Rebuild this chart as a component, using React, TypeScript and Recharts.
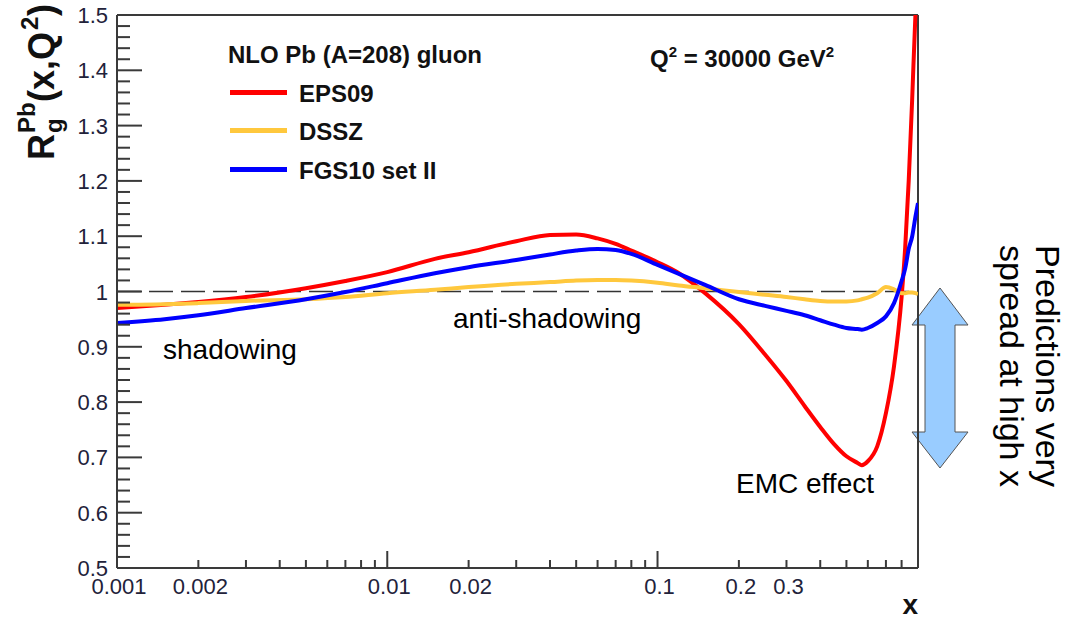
import React from "react";
import { LineChart, Line, XAxis, YAxis, ReferenceLine, Customized } from "recharts";

// x grid (log scale) shared by the three curves
const xValues = [
  0.001, 0.0015, 0.002, 0.003, 0.005, 0.007, 0.01, 0.015, 0.02, 0.03, 0.04, 0.05,
  0.06, 0.07, 0.08, 0.1, 0.12, 0.15, 0.2, 0.25, 0.3, 0.35, 0.4, 0.45, 0.5, 0.55,
  0.57, 0.6, 0.65, 0.7, 0.75, 0.8, 0.825, 0.85, 0.875, 0.9, 0.92,
];
const eps09 = [
  0.970, 0.976, 0.981, 0.990, 1.006, 1.019, 1.035, 1.059, 1.071, 1.091, 1.102, 1.103,
  1.096, 1.086, 1.074, 1.053, 1.033, 0.997, 0.941, 0.886, 0.838, 0.793, 0.755, 0.724,
  0.702, 0.690, 0.686, 0.693, 0.720, 0.780, 0.865, 0.990, 1.080, 1.200, 1.345, 1.500, 1.580,
];
const dssz = [
  0.976, 0.977, 0.979, 0.983, 0.986, 0.990, 0.997, 1.003, 1.008, 1.014, 1.017, 1.020,
  1.021, 1.021, 1.020, 1.016, 1.011, 1.006, 0.999, 0.994, 0.990, 0.986, 0.983, 0.982,
  0.982, 0.984, 0.986, 0.989, 0.997, 1.008, 1.004, 0.997, 0.997, 0.998, 0.998, 0.997, 0.995,
];
const fgs10 = [
  0.943, 0.950, 0.957, 0.970, 0.986, 0.999, 1.015, 1.033, 1.044, 1.057, 1.067, 1.074,
  1.077, 1.075, 1.068, 1.048, 1.032, 1.012, 0.986, 0.974, 0.965, 0.957, 0.948, 0.940,
  0.934, 0.932, 0.931, 0.934, 0.943, 0.955, 0.979, 1.019, 1.042, 1.077, 1.099, 1.135, 1.160,
];

const seriesKeys = ["eps09", "dssz", "fgs10"];
const seriesNames = ["EPS09", "DSSZ", "FGS10 set II"];
const seriesColors = ["#ff0000", "#ffc83d", "#0000ff"];

const xTicks = [
  0.001, 0.002, 0.003, 0.004, 0.005, 0.006, 0.007, 0.008, 0.009,
  0.01, 0.02, 0.03, 0.04, 0.05, 0.06, 0.07, 0.08, 0.09,
  0.1, 0.2, 0.3, 0.4, 0.5, 0.6, 0.7, 0.8,
];
const xLabelValues = [0.001, 0.002, 0.01, 0.02, 0.1, 0.2, 0.3];
const xLabels = ["0.001", "0.002", "0.01", "0.02", "0.1", "0.2", "0.3"];
const xMajor = [0.001, 0.01, 0.1];

const yLabels = ["0.5", "0.6", "0.7", "0.8", "0.9", "1", "1.1", "1.2", "1.3", "1.4", "1.5"];
const yTicks: number[] = [];
for (let i = 0; i <= 50; i++) yTicks.push(Math.round((0.5 + i * 0.02) * 100) / 100);

const rows = xValues.map((x, i) => ({ x, eps09: eps09[i], dssz: dssz[i], fgs10: fgs10[i] }));

const FONT = "'Liberation Sans', Arial, Helvetica, sans-serif";
const AXIS = "#3a3a3a";

const XTick = (props: any) => {
  const { x, y, payload } = props;
  const v = payload.value;
  const idx = xLabelValues.indexOf(v);
  const len = xMajor.includes(v) ? 17 : 8;
  return (
    <g>
      <line x1={x} x2={x} y1={y} y2={y - len} stroke={AXIS} strokeWidth={2} />
      {idx >= 0 && (
        <text x={x + 2} y={y + 26} textAnchor="middle" fontSize={22} fontFamily={FONT} fill="#22223a">
          {xLabels[idx]}
        </text>
      )}
    </g>
  );
};

const YTick = (props: any) => {
  const { x, y, payload } = props;
  const v = payload.value;
  const k = Math.round((v - 0.5) * 50);
  const major = k % 5 === 0;
  return (
    <g>
      <line x1={x} x2={x + (major ? 25 : 13)} y1={y} y2={y} stroke={AXIS} strokeWidth={2} />
      {major && (
        <text x={x - 9} y={y + 8} textAnchor="end" fontSize={22} fontFamily={FONT} fill="#22223a">
          {yLabels[k / 5]}
        </text>
      )}
    </g>
  );
};

const Overlay = () => (
  <g fontFamily={FONT}>
    {/* y axis title */}
    <g transform="translate(54,160) rotate(-90)" fontWeight="bold" fill="#111">
      <text x={0} y={0} fontSize={36}>R</text>
      <text x={27} y={8} fontSize={24}>g</text>
      <text x={27} y={-19} fontSize={24}>Pb</text>
      <text x={58} y={0} fontSize={36}>(x,Q</text>
      <text x={130} y={-16} fontSize={24}>2</text>
      <text x={144} y={0} fontSize={36}>)</text>
    </g>
    {/* legend */}
    <text x={228} y={63} fontSize={24} fontWeight="bold" fill="#111">NLO Pb (A=208) gluon</text>
    {seriesNames.map((n, i) => {
      const yy = [92.5, 130.5, 169.5][i];
      return (
        <g key={n}>
          <line x1={230} x2={287} y1={yy} y2={yy} stroke={seriesColors[i]} strokeWidth={5} />
          <text x={299} y={yy + 9} fontSize={24} fontWeight="bold" fill="#111">{n}</text>
        </g>
      );
    })}
    <text x={650} y={67} fontSize={24} fontWeight="bold" fill="#111">
      Q<tspan fontSize={15} dy={-10}>2</tspan>
      <tspan dy={10}> = 30000 GeV</tspan>
      <tspan fontSize={15} dy={-10}>2</tspan>
    </text>
    {/* annotations */}
    <text x={163} y={359} fontSize={28} fill="#000">shadowing</text>
    <text x={453} y={328} fontSize={28} fill="#000">anti-shadowing</text>
    <text x={736} y={493} fontSize={28} fill="#000">EMC effect</text>
    <text x={918} y={614} fontSize={28} fontWeight="bold" textAnchor="end" fill="#111">x</text>
    {/* spread arrow */}
    <path
      d="M940,288 L968,325 L955,325 L955,432 L968,432 L940,468 L912,432 L925,432 L925,325 L912,325 Z"
      fill="#99ccff"
      stroke="#555"
      strokeWidth={1}
    />
    <g transform="translate(1036,366) rotate(90)" fontSize={34} fill="#000" textAnchor="middle">
      <text x={0} y={0}>Predictions very</text>
      <text x={0} y={36}>spread at high x</text>
    </g>
  </g>
);

export default function App() {
  return (
    <div style={{ position: "absolute", left: 0, top: 0, width: 1071, height: 621, background: "#fff" }}>
      <LineChart width={1071} height={621} data={rows} margin={{ top: 15, right: 153, bottom: 0, left: 0 }}>
        <XAxis
          dataKey="x"
          type="number"
          scale="log"
          domain={[0.001, 0.92]}
          allowDataOverflow
          ticks={xTicks}
          interval={0}
          tickSize={0}
          tickMargin={0}
          height={53}
          tick={<XTick />}
          axisLine={{ stroke: AXIS, strokeWidth: 2 }}
        />
        <YAxis
          type="number"
          domain={[0.5, 1.5]}
          allowDataOverflow
          ticks={yTicks}
          interval={0}
          tickSize={0}
          tickMargin={0}
          width={117}
          tick={<YTick />}
          axisLine={{ stroke: AXIS, strokeWidth: 2 }}
        />
        <ReferenceLine y={1.5} stroke={AXIS} strokeWidth={2} />
        <ReferenceLine x={0.92} stroke={AXIS} strokeWidth={2} />
        <ReferenceLine y={1} stroke="#333" strokeWidth={1.5} strokeDasharray="24 8" />
        {seriesKeys.map((k, i) => (
          <Line
            key={k}
            dataKey={k}
            name={seriesNames[i]}
            type="monotone"
            stroke={seriesColors[i]}
            strokeWidth={4}
            dot={false}
            activeDot={false}
            isAnimationActive={false}
          />
        ))}
        <Customized component={Overlay} />
      </LineChart>
    </div>
  );
}
